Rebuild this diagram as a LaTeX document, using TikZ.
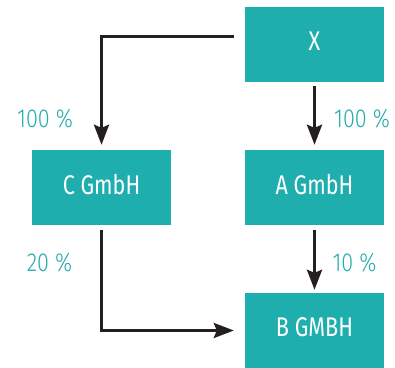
\documentclass[tikz,border=0pt]{standalone}
\usepackage{fontspec}
\setmainfont{Fira Sans}[FakeStretch=0.8]
\newfontfamily\lightfont{Fira Sans Light}[FakeStretch=0.83]
\usetikzlibrary{arrows.meta}
\definecolor{teal1}{HTML}{1EAEAE}
\definecolor{labteal}{HTML}{25ABAB}
\definecolor{ink}{HTML}{231F20}
\tikzset{
  company/.style={fill=teal1, draw=none, minimum width=139pt, minimum height=75pt,
    inner sep=0pt, text=white, font=\fontsize{27}{29}\selectfont, text depth=7pt},
  share/.style={text=labteal, font=\lightfont\fontsize{26}{28}\selectfont, inner sep=0pt},
  link/.style={draw=ink, line width=3pt,
    -{Stealth[length=20pt, width=15pt, inset=3pt]}}
}
\begin{document}
\begin{tikzpicture}[x=1pt, y=1pt]
  \useasboundingbox (0,0) rectangle (395,367);
  % companies
  \node[company] (X) at (314.5,322.5) {X};
  \node[company] (C) at (101.5,179.5) {C GmbH};
  \node[company] (A) at (314.5,179.5) {A GmbH};
  \node[company] (B) at (314.5,36.5) {B GMBH};
  % shareholdings
  \draw[link] ([xshift=-11pt, yshift=7.5pt]X.west) -| ([yshift=5pt]C.north);
  \draw[link] ([yshift=-4pt]X.south) -- ([yshift=5pt]A.north);
  \draw[link] ([yshift=-5pt]A.south) -- ([yshift=3pt]B.north);
  \draw[link] ([yshift=-5pt]C.south) |- ([xshift=-11pt]B.west);
  % percentages
  \node[share] (p1) at (45,248) {100 \%};
  \node[share] (p2) at (362,248.5) {100 \%};
  \node[share] (p3) at (49.5,104) {20 \%};
  \node[share] (p4) at (354.5,104) {10 \%};
\end{tikzpicture}
\end{document}
